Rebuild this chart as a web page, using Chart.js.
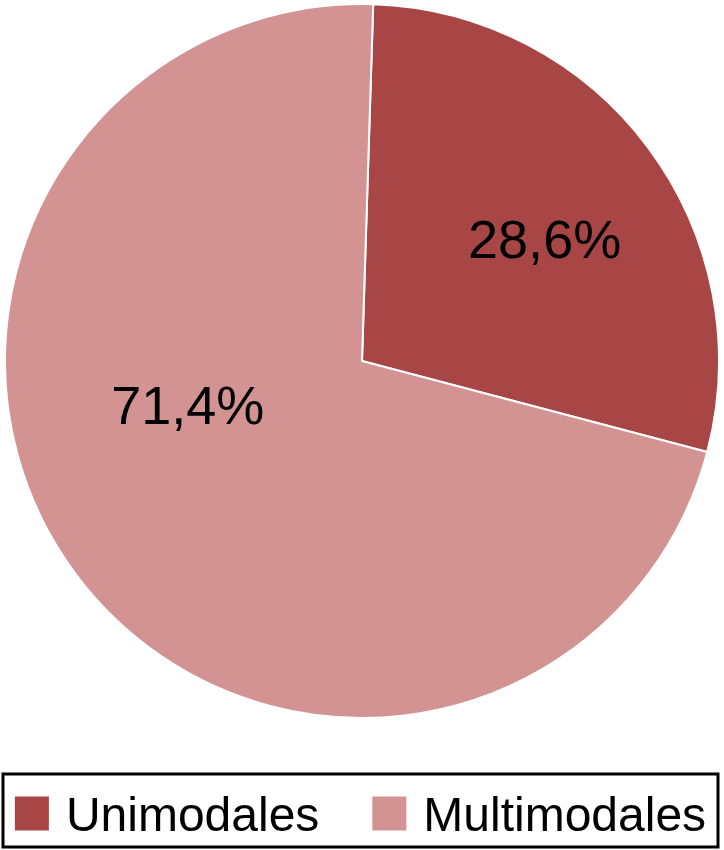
<!DOCTYPE html>
<html>
<head>
<meta charset="utf-8">
<script src="https://cdn.jsdelivr.net/npm/chart.js@4/dist/chart.umd.min.js"></script>
<style>
  html, body { margin: 0; padding: 0; background: #ffffff; }
  #wrap { width: 724px; height: 850px; }
</style>
</head>
<body>
<div id="wrap"><canvas id="myChart" width="724" height="850"></canvas></div>
<script>
// dane wykresu
const categories = ['Unimodales', 'Multimodales'];
const shares = [28.6, 71.4];
const shareLabels = ['28,6%', '71,4%'];
const sliceColors = ['#a84645', '#d39393'];

// etykiety procentowe na wycinkach
const sliceLabels = {
    id: 'sliceLabels',
    afterDatasetsDraw(chart, args, opts) {
        const ctx = chart.ctx;
        const arcs = chart.getDatasetMeta(0).data;
        ctx.save();
        ctx.font = opts.size + 'px "Liberation Sans", Arial, sans-serif';
        ctx.fillStyle = '#000000';
        ctx.textAlign = 'center';
        ctx.textBaseline = 'alphabetic';
        arcs.forEach((arc, i) => {
            const p = arc.getProps(['x', 'y', 'startAngle', 'endAngle', 'outerRadius'], true);
            const mid = (p.startAngle + p.endAngle) / 2 + opts.shift[i] * Math.PI / 180;
            const r = p.outerRadius * opts.radius[i];
            const x = p.x + Math.cos(mid) * r;
            const y = p.y + Math.sin(mid) * r + opts.size * 0.358;
            ctx.fillText(shareLabels[i], x, y);
        });
        ctx.restore();
    }
};

// legenda w ramce pod wykresem
const boxedLegend = {
    id: 'boxedLegend',
    afterDraw(chart, args, opts) {
        const ctx = chart.ctx;
        const ds = chart.data.datasets[0];
        ctx.save();
        ctx.strokeStyle = '#000000';
        ctx.lineWidth = 3;
        ctx.strokeRect(opts.left, opts.top, opts.width, opts.height);
        ctx.font = opts.size + 'px "Liberation Sans", Arial, sans-serif';
        const widths = chart.data.labels.map(l => opts.box + opts.gap + ctx.measureText(l).width);
        const total = widths.reduce((a, b) => a + b, 0) + opts.itemGap * (widths.length - 1);
        let x = opts.left + (opts.width - total) / 2;
        const midY = opts.top + opts.height / 2 + 3;
        ctx.textBaseline = 'alphabetic';
        chart.data.labels.forEach((label, i) => {
            ctx.fillStyle = ds.backgroundColor[i];
            ctx.fillRect(x, midY - opts.box / 2, opts.box, opts.box);
            ctx.fillStyle = '#000000';
            ctx.fillText(label, x + opts.box + opts.gap, midY + opts.size * 0.358);
            x += widths[i] + opts.itemGap;
        });
        ctx.restore();
    }
};

const ctx = document.getElementById('myChart').getContext('2d');
const myChart = new Chart(ctx, {
    type: 'pie',
    data: {
        labels: categories,
        datasets: [{
            data: shares,
            backgroundColor: sliceColors,
            borderColor: '#ffffff',
            borderWidth: 2
        }]
    },
    options: {
        responsive: false,
        animation: false,
        rotation: 1.8,
        layout: {
            padding: { top: 3, bottom: 131, left: 4, right: 4 }
        },
        plugins: {
            legend: { display: false },
            tooltip: { enabled: false },
            sliceLabels: { size: 54, shift: [3, 22.7], radius: [0.615, 0.503] },
            boxedLegend: { left: 3, top: 774, width: 715, height: 73, size: 48, box: 34, gap: 17, itemGap: 53 }
        }
    },
    plugins: [sliceLabels, boxedLegend]
});
</script>
</body>
</html>
